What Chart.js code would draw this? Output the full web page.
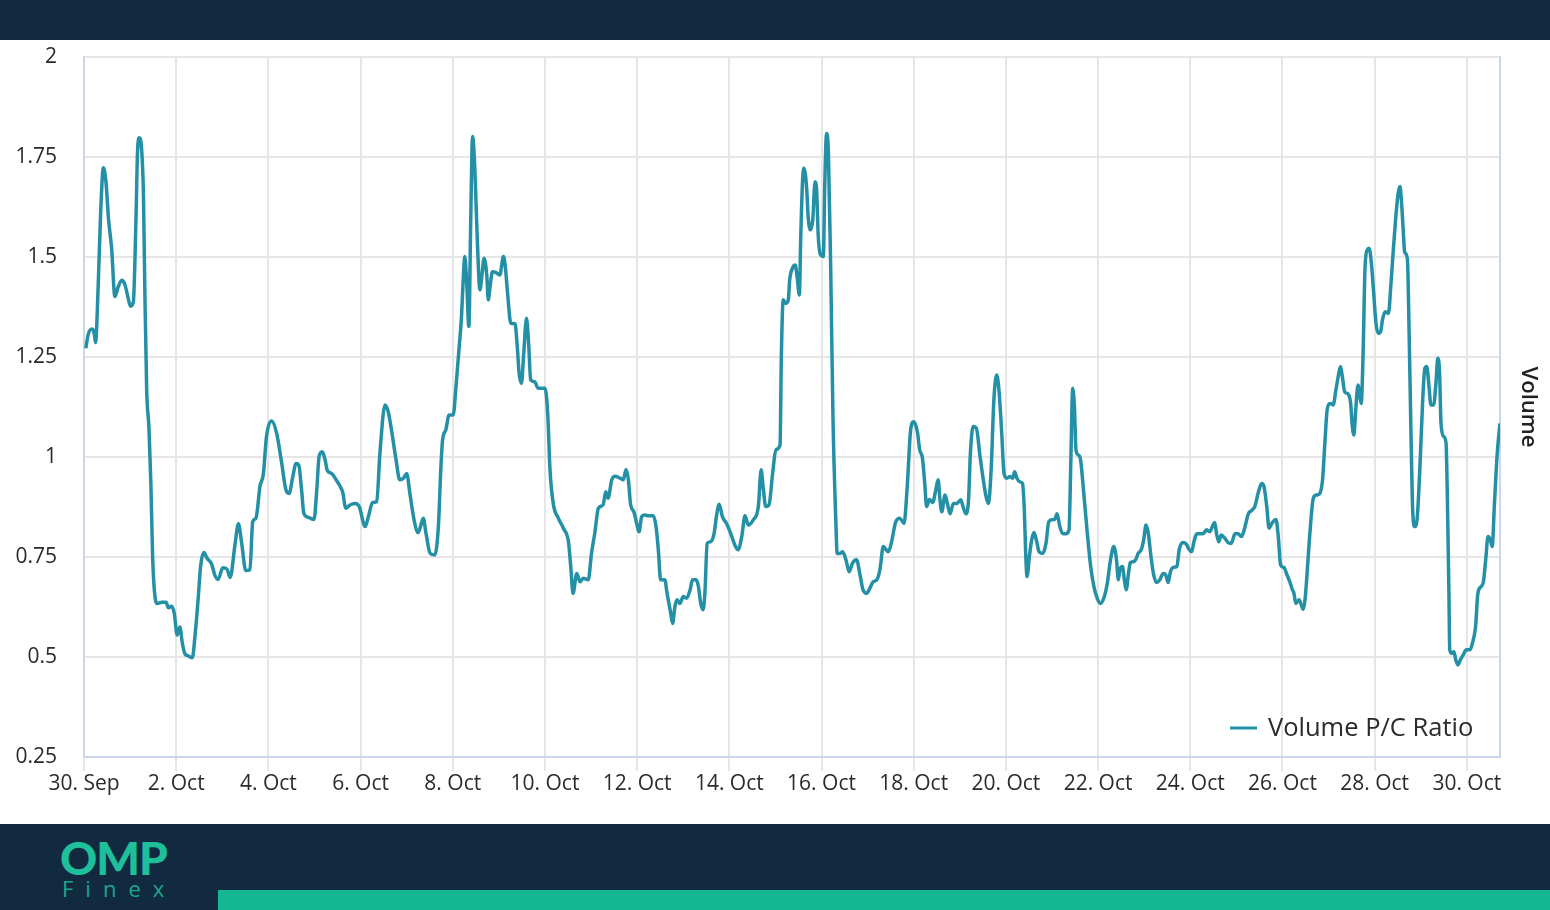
<!DOCTYPE html>
<html><head><meta charset="utf-8">
<script src="https://cdn.jsdelivr.net/npm/chart.js@4.4.1/dist/chart.umd.min.js"></script>
<style>
html,body{margin:0;padding:0;width:1550px;height:910px;overflow:hidden;background:#fff;font-family:'Open Sans',sans-serif}
#top{position:absolute;left:0;top:0;width:1550px;height:40px;background:#122a3f}
#wrap{position:absolute;left:0;top:40px;width:1550px;height:784px;background:#fff}
#foot{position:absolute;left:0;top:824px;width:1550px;height:86px;background:#122a3f}
#bar{position:absolute;left:218px;top:66px;width:1332px;height:20px;background:#13b792}
#omp{position:absolute;left:60px;top:14px;font:900 46px Lato,sans-serif;color:#1fbf9b;line-height:40px;letter-spacing:-1px}
#finex{position:absolute;left:62px;top:52px;font:400 22px 'Open Sans',sans-serif;color:#1aa88c;letter-spacing:12px;line-height:24px}
</style></head>
<body>
<div id="top"></div>
<div id="wrap"><canvas id="c" width="1550" height="784"></canvas></div>
<div id="foot"><div id="omp">OMP</div><div id="finex">Finex</div><div id="bar"></div></div>
<script>
// ---- data (x = days since 30 Sep) ----
const seriesName = 'Volume P/C Ratio';
const axisTitle = 'Volume';
const tickDays = [0,2,4,6,8,10,12,14,16,18,20,22,24,26,28,30];
const tickLabels = ['30. Sep','2. Oct','4. Oct','6. Oct','8. Oct','10. Oct','12. Oct','14. Oct','16. Oct','18. Oct','20. Oct','22. Oct','24. Oct','26. Oct','28. Oct','30. Oct'];
const yTicks = [0.25,0.5,0.75,1,1.25,1.5,1.75,2];
const yTickLabels = ['0.25','0.5','0.75','1','1.25','1.5','1.75','2'];
const days = [
0.04,0.09,0.17,0.22,0.25,0.31,0.36,0.42,0.48,0.53,0.60,0.67,0.74,0.82,0.89,0.96,1.01,1.07,1.13,1.16,1.20,1.25,1.29,1.32,1.36,1.41,1.45,1.49,1.54,1.59,1.69,1.78,1.83,1.90,1.96,2.02,2.08,2.13,2.19,2.26,2.35,2.41,2.48,2.53,2.60,2.67,2.77,2.84,2.91,3.01,3.10,3.17,3.28,3.35,3.42,3.51,3.60,3.66,3.73,3.82,3.89,3.96,4.07,
4.18,4.29,4.38,4.45,4.53,4.60,4.66,4.72,4.77,4.87,4.99,5.05,5.10,5.17,5.23,5.28,5.37,5.47,5.55,5.61,5.68,5.77,5.88,5.97,6.10,6.17,6.26,6.35,6.42,6.53,6.60,6.67,6.77,6.85,6.93,7.00,7.07,7.16,7.25,7.30,7.36,7.42,7.51,7.61,7.69,7.74,7.78,7.85,7.92,8.01,
8.07,8.14,8.19,8.23,8.26,8.30,8.35,8.39,8.43,8.48,8.53,8.59,8.63,8.68,8.74,8.77,8.81,8.86,8.94,9.02,9.10,9.14,9.19,9.26,9.35,9.40,9.44,9.49,9.54,9.60,9.65,9.69,9.78,9.85,10.00,10.06,10.11,10.18,10.29,10.40,10.51,10.56,10.61,10.69,10.76,10.83,10.94,11.01,11.08,11.16,11.26,11.32,11.37,11.45,11.52,11.63,11.70,11.76,11.81,11.86,11.93,11.99,
12.04,12.10,12.17,12.24,12.35,12.41,12.46,12.51,12.60,12.65,12.73,12.77,12.82,12.87,12.93,13.00,13.07,13.15,13.20,13.28,13.33,13.38,13.43,13.47,13.52,13.59,13.67,13.72,13.78,13.85,13.94,14.03,14.12,14.19,14.27,14.34,14.41,14.52,14.63,14.69,14.74,14.79,14.86,14.94,15.01,15.10,
15.13,15.17,15.22,15.28,15.31,15.37,15.43,15.47,15.52,15.55,15.59,15.62,15.68,15.71,15.76,15.81,15.86,15.89,15.93,15.98,16.04,16.07,16.11,16.15,16.20,16.25,16.31,16.34,16.40,16.46,16.53,16.60,16.67,16.76,16.83,16.90,16.98,17.05,17.12,17.20,17.27,17.34,17.45,17.52,17.61,17.70,17.79,17.86,17.93,18.00,18.08,
18.13,18.19,18.24,18.28,18.34,18.41,18.48,18.53,18.57,18.61,18.68,18.73,18.79,18.86,18.94,19.02,19.07,19.13,19.19,19.23,19.29,19.36,19.44,19.51,19.57,19.62,19.68,19.74,19.80,19.85,19.91,19.96,20.02,20.09,20.15,20.19,20.24,20.30,20.36,20.40,20.43,20.46,20.51,20.56,20.61,20.67,20.72,20.80,20.87,20.93,21.00,21.06,21.11,21.17,21.23,21.30,21.37,21.41,21.45,21.49,21.52,21.57,21.62,21.69,21.76,21.84,21.91,21.98,
22.05,22.13,22.20,22.27,22.34,22.40,22.44,22.48,22.53,22.57,22.61,22.66,22.70,22.76,22.82,22.87,22.94,22.99,23.04,23.09,23.14,23.20,23.27,23.34,23.41,23.47,23.52,23.57,23.63,23.71,23.76,23.84,23.91,23.98,24.03,24.08,24.14,24.22,24.29,24.35,24.42,24.48,24.53,24.57,24.62,24.67,24.75,24.82,24.89,24.97,25.04,25.11,25.18,25.26,25.33,25.40,25.48,25.55,25.60,25.66,25.71,25.77,25.86,25.91,25.96,
26.03,26.10,26.16,26.21,26.25,26.29,26.36,26.41,26.45,26.49,26.54,26.59,26.67,26.74,26.81,26.87,26.92,26.97,27.03,27.10,27.16,27.21,27.26,27.30,27.35,27.42,27.48,27.51,27.55,27.59,27.64,27.68,27.71,27.75,27.79,27.84,27.88,27.93,27.98,28.03,28.08,28.13,28.17,28.23,28.30,28.35,28.40,28.46,28.51,28.55,28.58,28.62,28.65,28.71,28.75,28.79,28.82,28.87,28.92,28.98,
29.04,29.09,29.13,29.18,29.22,29.28,29.33,29.37,29.41,29.44,29.50,29.55,29.58,29.61,29.63,29.67,29.72,29.76,29.81,29.86,29.92,29.99,30.07,30.12,30.19,30.24,30.31,30.36,30.41,30.46,30.51,30.55,30.60,30.66,30.72
];
const ratio = [
1.272,1.306,1.320,1.310,1.286,1.435,1.607,1.723,1.683,1.597,1.521,1.401,1.425,1.442,1.430,1.396,1.377,1.387,1.607,1.760,1.798,1.769,1.654,1.415,1.167,1.071,0.937,0.747,0.651,0.634,0.637,0.637,0.623,0.627,0.608,0.555,0.575,0.537,0.508,0.503,0.498,0.555,0.651,0.727,0.761,0.747,0.732,0.704,0.694,0.723,0.720,0.699,0.785,0.833,0.785,0.716,0.718,0.838,0.847,0.928,0.957,1.052,1.090,
1.059,0.984,0.918,0.909,0.951,0.984,0.980,0.918,0.859,0.849,0.844,0.918,1.001,1.013,0.993,0.966,0.959,0.943,0.928,0.913,0.872,0.880,0.884,0.876,0.826,0.851,0.886,0.888,1.009,1.130,1.113,1.068,0.993,0.943,0.947,0.959,0.909,0.843,0.811,0.826,0.847,0.809,0.759,0.755,0.830,0.968,1.043,1.068,1.105,1.105,
1.176,1.276,1.351,1.451,1.501,1.443,1.326,1.593,1.801,1.718,1.551,1.418,1.451,1.497,1.451,1.393,1.426,1.463,1.461,1.455,1.501,1.476,1.409,1.334,1.333,1.276,1.209,1.184,1.259,1.347,1.276,1.193,1.188,1.172,1.172,1.109,0.968,0.884,0.847,0.822,0.788,0.726,0.659,0.709,0.688,0.697,0.693,0.759,0.809,0.872,0.880,0.913,0.897,0.943,0.952,0.947,0.943,0.969,0.943,0.880,0.863,0.834,
0.813,0.851,0.855,0.853,0.853,0.826,0.768,0.693,0.693,0.659,0.609,0.584,0.626,0.643,0.634,0.651,0.647,0.668,0.693,0.693,0.676,0.634,0.618,0.659,0.784,0.788,0.809,0.851,0.882,0.851,0.834,0.809,0.780,0.768,0.801,0.853,0.830,0.843,0.876,0.968,0.918,0.876,0.880,0.959,1.018,1.030,
1.259,1.393,1.384,1.393,1.443,1.472,1.480,1.451,1.405,1.551,1.693,1.722,1.668,1.601,1.568,1.593,1.688,1.676,1.551,1.505,1.501,1.676,1.809,1.759,1.468,1.093,0.843,0.759,0.759,0.763,0.743,0.713,0.734,0.743,0.709,0.668,0.659,0.672,0.688,0.693,0.720,0.776,0.763,0.788,0.838,0.847,0.834,0.926,1.063,1.088,1.063,
1.018,0.997,0.934,0.876,0.894,0.886,0.918,0.943,0.893,0.863,0.905,0.884,0.858,0.884,0.884,0.893,0.876,0.858,0.893,1.009,1.076,1.072,1.001,0.943,0.901,0.884,0.968,1.143,1.205,1.168,1.059,0.959,0.947,0.951,0.947,0.963,0.947,0.938,0.934,0.868,0.759,0.701,0.751,0.793,0.811,0.788,0.763,0.759,0.784,0.838,0.843,0.844,0.858,0.826,0.809,0.808,0.818,0.993,1.172,1.118,1.018,1.005,0.993,0.909,0.818,0.726,0.676,0.647,
0.634,0.649,0.684,0.743,0.776,0.743,0.693,0.722,0.726,0.693,0.668,0.709,0.736,0.738,0.744,0.759,0.769,0.793,0.830,0.809,0.759,0.709,0.686,0.693,0.709,0.705,0.686,0.713,0.724,0.726,0.768,0.786,0.783,0.768,0.763,0.788,0.808,0.808,0.809,0.818,0.813,0.826,0.836,0.809,0.788,0.805,0.797,0.786,0.784,0.808,0.808,0.801,0.822,0.858,0.866,0.876,0.913,0.934,0.926,0.876,0.822,0.834,0.844,0.801,0.730,
0.724,0.705,0.688,0.670,0.659,0.634,0.643,0.630,0.619,0.643,0.718,0.801,0.897,0.905,0.909,0.943,1.034,1.118,1.134,1.130,1.168,1.201,1.226,1.201,1.163,1.158,1.134,1.084,1.055,1.118,1.180,1.151,1.134,1.259,1.468,1.518,1.522,1.484,1.409,1.334,1.309,1.313,1.343,1.363,1.359,1.426,1.509,1.601,1.659,1.676,1.643,1.568,1.513,1.497,1.301,1.051,0.884,0.826,0.843,0.968,
1.134,1.222,1.226,1.176,1.130,1.130,1.184,1.247,1.209,1.084,1.051,1.034,0.884,0.676,0.518,0.509,0.513,0.493,0.480,0.493,0.505,0.518,0.518,0.534,0.576,0.659,0.676,0.688,0.743,0.801,0.793,0.776,0.884,1.009,1.084
];
const xMax = 30.72;

const lineColor = '#2490a6';
const points = days.map((d, i) => ({ x: d, y: ratio[i] }));

Chart.defaults.font.family = "'Open Sans', sans-serif";

const legendPlugin = {
  id: 'inlegend',
  afterDraw(c) {
    const ctx = c.ctx, a = c.chartArea, ds = c.data.datasets[0];
    const x0 = a.right - 270, y0 = a.bottom - 29;
    ctx.save();
    ctx.strokeStyle = ds.borderColor; ctx.lineWidth = 3;
    ctx.beginPath(); ctx.moveTo(x0, y0); ctx.lineTo(x0 + 27, y0); ctx.stroke();
    ctx.font = "25.5px 'Open Sans', sans-serif";
    ctx.fillStyle = '#2b2b2b'; ctx.textBaseline = 'middle'; ctx.textAlign = 'left';
    ctx.fillText(ds.label, x0 + 38, y0 + 1);
    ctx.restore();
  }
};

new Chart(document.getElementById('c'), {
  type: 'line',
  data: { datasets: [{ label: seriesName, data: points, borderColor: lineColor, borderWidth: 3.5, pointRadius: 0, cubicInterpolationMode: 'monotone', fill: false }] },
  options: {
    responsive: false, animation: false,
    layout: { padding: { top: 17, left: 0, right: 0, bottom: 0 } },
    plugins: { legend: { display: false }, tooltip: { enabled: false } },
    scales: {
      x: {
        type: 'linear', min: 0, max: xMax,
        afterBuildTicks: s => { s.ticks = tickDays.map(v => ({ value: v })); },
        afterFit: s => { s.height = 67; s.paddingLeft = 0; s.paddingRight = 0; },
        ticks: { callback: (v, i) => tickLabels[i], font: { size: 21 }, color: '#2b2b2b', padding: 0, maxRotation: 0, autoSkip: false },
        grid: { color: '#e6e6e6', lineWidth: 2, drawTicks: true, tickLength: 14, tickColor: '#e6e6e6' },
        border: { color: '#ccd6eb', width: 2 }
      },
      y: {
        type: 'linear', position: 'left', min: 0.25, max: 2,
        afterBuildTicks: s => { s.ticks = yTicks.map(v => ({ value: v })); },
        afterFit: s => { s.width = 84; s.paddingTop = 0; s.paddingBottom = 0; },
        ticks: { callback: (v, i) => yTickLabels[i], font: { size: 21 }, color: '#2b2b2b', padding: 27 },
        grid: { color: '#e6e6e6', lineWidth: 2, drawTicks: false },
        border: { color: '#ccd6eb', width: 2 }
      },
      y2: {
        type: 'linear', position: 'right', min: 0, max: 1, display: true,
        afterFit: s => { s.width = 50; s.paddingTop = 0; s.paddingBottom = 0; },
        ticks: { display: false },
        grid: { display: false, drawTicks: false },
        border: { color: '#ccd6eb', width: 2 },
        title: { display: true, text: axisTitle, font: { size: 22, weight: '600' }, color: '#222', padding: { top: 9, bottom: 0 } }
      }
    }
  },
  plugins: [legendPlugin]
});
</script>
</body></html>
